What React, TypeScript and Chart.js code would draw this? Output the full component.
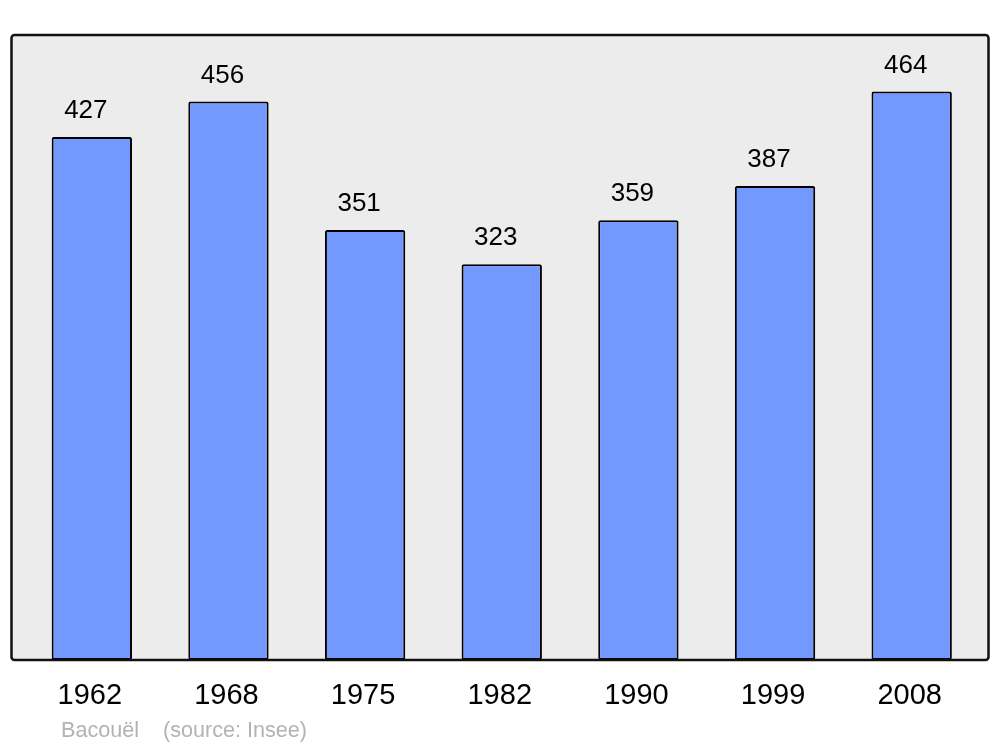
import React, { useEffect, useRef } from "react";
import { Chart, registerables } from "chart.js";

Chart.register(...registerables);

const years = ["1962", "1968", "1975", "1982", "1990", "1999", "2008"];
const population = [427, 456, 351, 323, 359, 387, 464];
const commune = "Bacouël";
const sourceText = "(source: Insee)";

const FONT = "'Liberation Sans', Arial, sans-serif";

const decorPlugin = {
  id: "decor",
  beforeDatasetsDraw(chart: any) {
    const { ctx, chartArea } = chart;
    const left = 11.5;
    const right = 988.5;
    const top = chartArea.top + 1;
    const bottom = chartArea.bottom;
    ctx.save();
    ctx.fillStyle = "#ececec";
    ctx.beginPath();
    (ctx as any).roundRect(left, top, right - left, bottom - top, 3);
    ctx.fill();
    ctx.restore();
  },
  afterDatasetsDraw(chart: any) {
    const { ctx, chartArea } = chart;
    const left = 11.5;
    const right = 988.5;
    const top = chartArea.top + 1;
    const bottom = chartArea.bottom;
    ctx.save();
    ctx.strokeStyle = "#111";
    ctx.lineWidth = 2.5;
    ctx.beginPath();
    (ctx as any).roundRect(left, top, right - left, bottom - top, 3);
    ctx.stroke();

    const meta = chart.getDatasetMeta(0);
    const xScale = chart.scales.x;
    ctx.fillStyle = "#000";
    ctx.textAlign = "center";
    ctx.textBaseline = "middle";
    ctx.font = `26px ${FONT}`;
    meta.data.forEach((bar: any, i: number) => {
      ctx.fillText(String(population[i]), bar.x - 6, bar.y - 26);
    });
    ctx.font = `29px ${FONT}`;
    years.forEach((y, i) => {
      ctx.fillText(y, xScale.getPixelForValue(i) - 2, 696);
    });
    ctx.fillStyle = "#b3b3b3";
    ctx.textAlign = "left";
    ctx.font = `21.6px ${FONT}`;
    ctx.fillText(commune, 61, 731);
    ctx.fillText(sourceText, 163, 731);
    ctx.restore();
  },
};

export default function App() {
  const ref = useRef<HTMLCanvasElement>(null);
  useEffect(() => {
    document.body.style.margin = "0";
    const chart = new Chart(ref.current!, {
      type: "bar",
      data: {
        labels: years,
        datasets: [
          {
            data: population,
            backgroundColor: "#7399ff",
            borderColor: "#000",
            borderWidth: 2,
            borderRadius: 2,
            borderSkipped: false,
            barPercentage: 0.588,
            categoryPercentage: 1,
          },
        ],
      },
      options: {
        animation: false,
        responsive: false,
        devicePixelRatio: 1,
        layout: { padding: { left: 23.5, right: 20, top: 34, bottom: 87 } },
        plugins: { legend: { display: false }, tooltip: { enabled: false } },
        scales: {
          x: { display: false },
          y: { display: false, min: 0, max: 511 },
        },
      },
      plugins: [decorPlugin],
    });
    return () => chart.destroy();
  }, []);
  return <canvas ref={ref} width={1000} height={747} style={{ display: "block" }} />;
}
